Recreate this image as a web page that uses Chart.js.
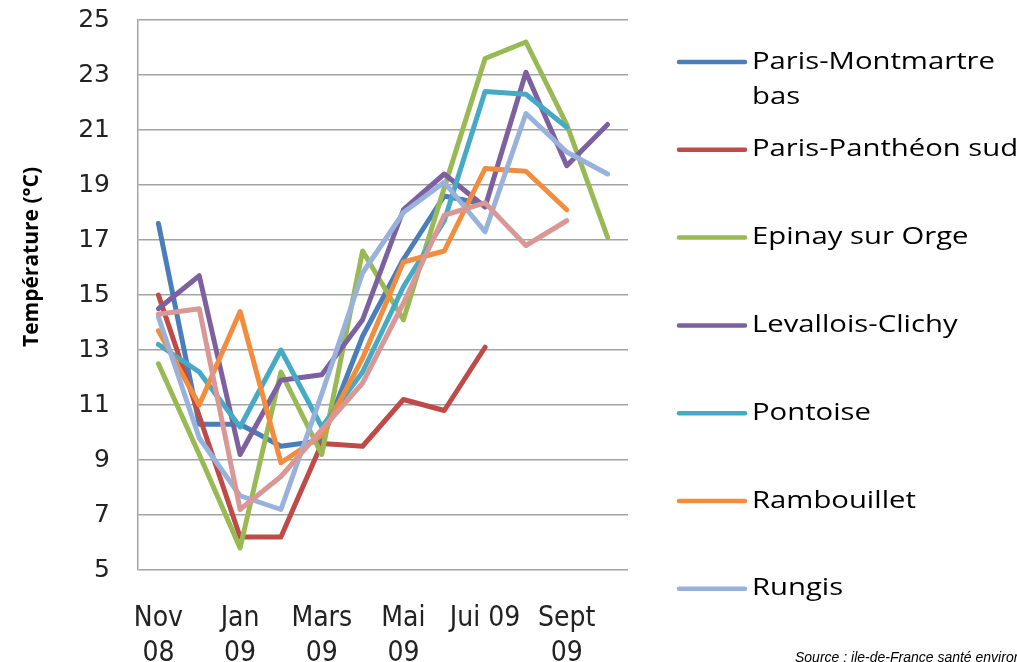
<!DOCTYPE html>
<html><head><meta charset="utf-8">
<script src="https://cdn.jsdelivr.net/npm/chart.js@4"></script>
<style>html,body{margin:0;padding:0;background:#fff;overflow:hidden}</style>
</head><body>
<canvas id="c" width="1017" height="662" style="width:1017px;height:662px;display:block"></canvas>
<script>
// ---- data ----
const categories = ["Nov 08","Déc 08","Jan 09","Fév 09","Mars 09","Avr 09","Mai 09","Juin 09","Jui 09","Août 09","Sept 09","Oct 09"];
const xTickLabels = [["Nov","08"],"",["Jan","09"],"",["Mars","09"],"",["Mai","09"],"","Jui 09","",["Sept","09"],""];
const seriesNames = ["Paris-Montmartre bas","Paris-Panthéon sud","Epinay sur Orge","Levallois-Clichy","Pontoise","Rambouillet","Rungis",""];
const legendLines = [["Paris-Montmartre","bas"],["Paris-Panthéon sud"],["Epinay sur Orge"],["Levallois-Clichy"],["Pontoise"],["Rambouillet"],["Rungis"]];
const montmartre  = [17.6, 10.3, 10.3, 9.5, 9.7, 13.5, 16.3, 18.6, 18.3, null, null, null];
const pantheon    = [15.0, 10.6, 6.2, 6.2, 9.6, 9.5, 11.2, 10.8, 13.1, null, null, null];
const epinay      = [12.5, 9.2, 5.8, 12.2, 9.2, 16.6, 14.1, 18.9, 23.6, 24.2, 21.2, 17.1];
const levallois   = [14.5, 15.7, 9.2, 11.9, 12.1, 14.1, 18.1, 19.4, 18.2, 23.1, 19.7, 21.2];
const pontoise    = [13.2, 12.2, 10.2, 13.0, 10.2, 12.2, 15.3, 17.7, 22.4, 22.3, 21.1, null];
const rambouillet = [13.7, 11.0, 14.4, 8.9, 9.9, 12.7, 16.2, 16.6, 19.6, 19.5, 18.1, null];
const rungis      = [14.2, 9.8, 7.7, 7.2, 11.4, 15.8, 18.0, 19.1, 17.3, 21.6, 20.2, 19.4];
const serie8      = [14.3, 14.5, 7.2, 8.4, 10.1, 11.8, 14.7, 17.9, 18.35, 16.8, 17.7, null];
const yMin = 5, yMax = 25, yStep = 2;

const colors = ["#4A7EBB","#BE4B48","#98B954","#7D60A0","#46AAC5","#F38D3E","#98B2DC","#D99795"];
const allSeries = [montmartre, pantheon, epinay, levallois, pontoise, rambouillet, rungis, serie8];

const datasets = allSeries.map((d, i) => ({
  label: seriesNames[i],
  data: d,
  borderColor: colors[i],
  backgroundColor: colors[i],
  borderWidth: 5,
  pointRadius: 0,
  pointHoverRadius: 0,
  tension: 0,
  fill: false,
  borderCapStyle: 'round',
  borderJoinStyle: 'round',
  order: -i
}));

const extras = {
  id: 'extras',
  afterDraw(chart) {
    const ctx = chart.ctx;
    // y-axis title
    ctx.save();
    ctx.translate(32, 257);
    ctx.rotate(-Math.PI / 2);
    ctx.font = 'bold 21px "Open Sans"';
    ctx.fillStyle = '#000';
    ctx.textAlign = 'center';
    ctx.textBaseline = 'middle';
    ctx.fillText('Température (°C)', 0, 0);
    ctx.restore();

    // legend
    ctx.save();
    ctx.font = '23px "Open Sans"';
    const s = 243 / ctx.measureText('Paris-Montmartre').width;
    const startY = 62, gap = 87.8;
    legendLines.forEach((lines, i) => {
      const y = startY + i * gap;
      ctx.strokeStyle = colors[i];
      ctx.lineWidth = 4.5;
      ctx.lineCap = 'round';
      ctx.beginPath();
      ctx.moveTo(679, y);
      ctx.lineTo(745, y);
      ctx.stroke();
      ctx.fillStyle = '#000';
      ctx.textBaseline = 'middle';
      ctx.textAlign = 'left';
      lines.forEach((t, k) => {
        ctx.save();
        ctx.translate(752, y + k * 35);
        ctx.scale(s, 1);
        ctx.fillText(t, 0, 0);
        ctx.restore();
      });
    });
    ctx.restore();

    // source
    ctx.save();
    ctx.font = 'italic 14px "Liberation Sans"';
    ctx.fillStyle = '#000';
    ctx.textBaseline = 'alphabetic';
    ctx.fillText('Source : ile-de-France santé environnement', 795, 662);
    ctx.restore();
  }
};

new Chart(document.getElementById('c'), {
  type: 'line',
  data: { labels: categories, datasets },
  plugins: [extras],
  options: {
    responsive: false,
    devicePixelRatio: 1,
    animation: false,
    events: [],
    layout: { padding: { top: 20, right: 389, left: 0, bottom: 0 } },
    plugins: { legend: { display: false }, tooltip: { enabled: false } },
    scales: {
      x: {
        type: 'category',
        offset: true,
        grid: { display: false },
        border: { display: false },
        ticks: {
          autoSkip: false, maxRotation: 0, minRotation: 0,
          padding: 23,
          color: '#222',
          font: { family: '"Liberation Sans Narrow", "DejaVu Sans Condensed", "Liberation Sans"', size: 28, lineHeight: 1.25 },
          callback: (v, i) => xTickLabels[i]
        },
        afterFit: (sc) => { sc.height = 92; sc.paddingLeft = 0; sc.paddingRight = 0; }
      },
      y: {
        min: yMin, max: yMax,
        grid: { color: '#a3a3a3', lineWidth: 1.5, drawTicks: false },
        border: { display: true, color: '#a3a3a3', width: 1.5 },
        ticks: {
          stepSize: yStep,
          padding: 28,
          color: '#222',
          font: { family: '"DejaVu Sans"', size: 25 }
        },
        afterFit: (sc) => { sc.width = 138; sc.paddingTop = 0; sc.paddingBottom = 0; }
      }
    }
  }
});
</script>
</body></html>
